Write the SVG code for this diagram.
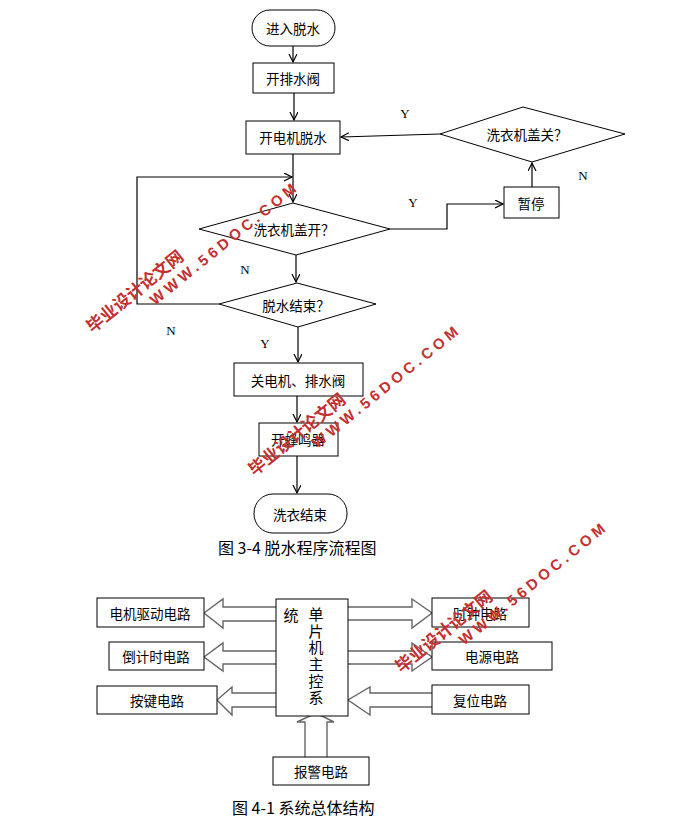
<svg xmlns="http://www.w3.org/2000/svg" width="686" height="835" viewBox="0 0 686 835">
<defs>
<marker id="ah" markerUnits="userSpaceOnUse" markerWidth="10" markerHeight="10" refX="8" refY="4" orient="auto">
<path d="M0,0 L8,4 L0,8" fill="none" stroke="#000" stroke-width="1.2"/>
</marker>
</defs>
<style>
.box{fill:#fff;stroke:#000;stroke-width:1}
.ln{fill:none;stroke:#000;stroke-width:1.2}
.ha{fill:#fff;stroke:#666;stroke-width:1.4}
.t{font-family:"Noto Sans CJK SC","Noto Sans",sans-serif;font-size:13.5px;fill:#000;text-anchor:middle;dominant-baseline:central}
.vt{font-family:"Noto Sans CJK SC",sans-serif;font-size:15px;fill:#000;writing-mode:vertical-rl;letter-spacing:1.6px}
.yn{font-family:"Liberation Serif",serif;font-size:13px;fill:#000;text-anchor:middle;dominant-baseline:central}
.cap{font-family:"Noto Sans CJK SC","Noto Sans",sans-serif;font-size:16px;fill:#000;dominant-baseline:central}
.wm1{font-family:"Noto Sans CJK SC",sans-serif;font-size:17px;font-weight:bold;fill:#c4302f}
.wm2{font-family:"Liberation Sans",Arial,sans-serif;font-size:15px;font-weight:bold;fill:#c4302f;letter-spacing:4px}
</style>
<rect width="686" height="835" fill="#fff"/>

<g id="connectors">
<line class="ln" x1="293" y1="46" x2="293" y2="62" marker-end="url(#ah)"/>
<line class="ln" x1="294" y1="93" x2="294" y2="120" marker-end="url(#ah)"/>
<line class="ln" x1="293" y1="154" x2="293" y2="202" marker-end="url(#ah)"/>
<polyline class="ln" points="219,304 137,304 137,177 292,177" marker-end="url(#ah)"/>
<line class="ln" x1="296" y1="255" x2="296" y2="282" marker-end="url(#ah)"/>
<line class="ln" x1="298" y1="327" x2="298" y2="362" marker-end="url(#ah)"/>
<line class="ln" x1="297" y1="396" x2="297" y2="422" marker-end="url(#ah)"/>
<line class="ln" x1="297" y1="456" x2="297" y2="493" marker-end="url(#ah)"/>
<polyline class="ln" points="390,229 447,229 447,204 503,204" marker-end="url(#ah)"/>
<line class="ln" x1="532" y1="187" x2="532" y2="163" marker-end="url(#ah)"/>
<line class="ln" x1="440" y1="134" x2="341" y2="137" marker-end="url(#ah)"/>
<polyline class="ha" points="276,607 223,607 223,599 204,613 223,628 223,621 276,621"/>
<polyline class="ha" points="276,651 223,651 223,643 204,657 223,671 223,664 276,664"/>
<polyline class="ha" points="276,693 232,693 232,687 217,700 232,715 232,707 276,707"/>
<polyline class="ha" points="348,607 412,607 412,599 432,613 412,628 412,620 348,620"/>
<polyline class="ha" points="348,651 412,651 412,643 432,657 412,671 412,664 348,664"/>
<polyline class="ha" points="432,693 370,693 370,687 348,700 370,715 370,707 432,707"/>
<polyline class="ha" points="305,757 305,722 297,722 316,713 334,722 327,722 327,757"/>
</g>

<g id="n_start"><rect class="box" x="252" y="10" width="83" height="36" rx="18"/><text class="t" x="293" y="28">进入脱水</text></g>
<g id="n_drain"><rect class="box" x="253" y="63" width="81" height="30"/><text class="t" x="293" y="78">开排水阀</text></g>
<g id="n_motor"><rect class="box" x="246" y="121" width="94" height="33"/><text class="t" x="293" y="137">开电机脱水</text></g>
<g id="n_lidopen"><polygon class="box" points="199,229 293,203 390,229 296,255"/><text class="t" x="294" y="229">洗衣机盖开？</text></g>
<g id="n_done"><polygon class="box" points="219,304 297,283 376,304 298,327"/><text class="t" x="296" y="305">脱水结束？</text></g>
<g id="n_stop"><rect class="box" x="234" y="363" width="129" height="33"/><text class="t" x="298" y="380">关电机、排水阀</text></g>
<g id="n_buzz"><rect class="box" x="259" y="423" width="79" height="33"/><text class="t" x="298" y="439">开蜂鸣器</text></g>
<g id="n_end"><rect class="box" x="254" y="494" width="93" height="39" rx="19"/><text class="t" x="300" y="514">洗衣结束</text></g>
<g id="n_pause"><rect class="box" x="504" y="187" width="55" height="31"/><text class="t" x="531" y="203">暂停</text></g>
<g id="n_lidclose"><polygon class="box" points="440,134 523,107 625,134 532,162"/><text class="t" x="527" y="134">洗衣机盖关？</text></g>

<g id="labels">
<text class="yn" x="405" y="113">Y</text>
<text class="yn" x="413" y="202">Y</text>
<text class="yn" x="583" y="175">N</text>
<text class="yn" x="245" y="269">N</text>
<text class="yn" x="171" y="330">N</text>
<text class="yn" x="265" y="343">Y</text>
</g>
<text class="cap" x="218" y="547">图 3-4 脱水程序流程图</text>

<g id="b_mcu"><rect class="box" x="276" y="599" width="72" height="117"/>
<text class="t" x="291" y="614" style="font-size:15px">统</text>
<text class="vt" x="316" y="607">单片机主控系</text>
</g>
<g id="b_motor"><rect class="box" x="97" y="598" width="107" height="29"/><text class="t" x="150" y="613">电机驱动电路</text></g>
<g id="b_count"><rect class="box" x="109" y="642" width="95" height="28"/><text class="t" x="156" y="656">倒计时电路</text></g>
<g id="b_key"><rect class="box" x="97" y="686" width="120" height="28"/><text class="t" x="157" y="700">按键电路</text></g>
<g id="b_clock"><rect class="box" x="432" y="598" width="97" height="29"/><text class="t" x="480" y="613">时钟电路</text></g>
<g id="b_power"><rect class="box" x="432" y="642" width="120" height="28"/><text class="t" x="492" y="656">电源电路</text></g>
<g id="b_reset"><rect class="box" x="432" y="685" width="97" height="29"/><text class="t" x="480" y="700">复位电路</text></g>
<g id="b_alarm"><rect class="box" x="273" y="757" width="96" height="28"/><text class="t" x="321" y="771">报警电路</text></g>
<text class="cap" x="232" y="807">图 4-1 系统总体结构</text>

<g id="watermarks">
<g transform="translate(92.5,333.4) rotate(-39)"><text class="wm1" x="0" y="0">毕业设计论文网</text><text class="wm2" x="66" y="18">WWW.56DOC.COM</text></g>
<g transform="translate(254.5,476.4) rotate(-39)"><text class="wm1" x="0" y="0">毕业设计论文网</text><text class="wm2" x="66" y="18">WWW.56DOC.COM</text></g>
<g transform="translate(401.5,673.4) rotate(-39)"><text class="wm1" x="0" y="0">毕业设计论文网</text><text class="wm2" x="66" y="18">WWW.56DOC.COM</text></g>
</g>
</svg>
